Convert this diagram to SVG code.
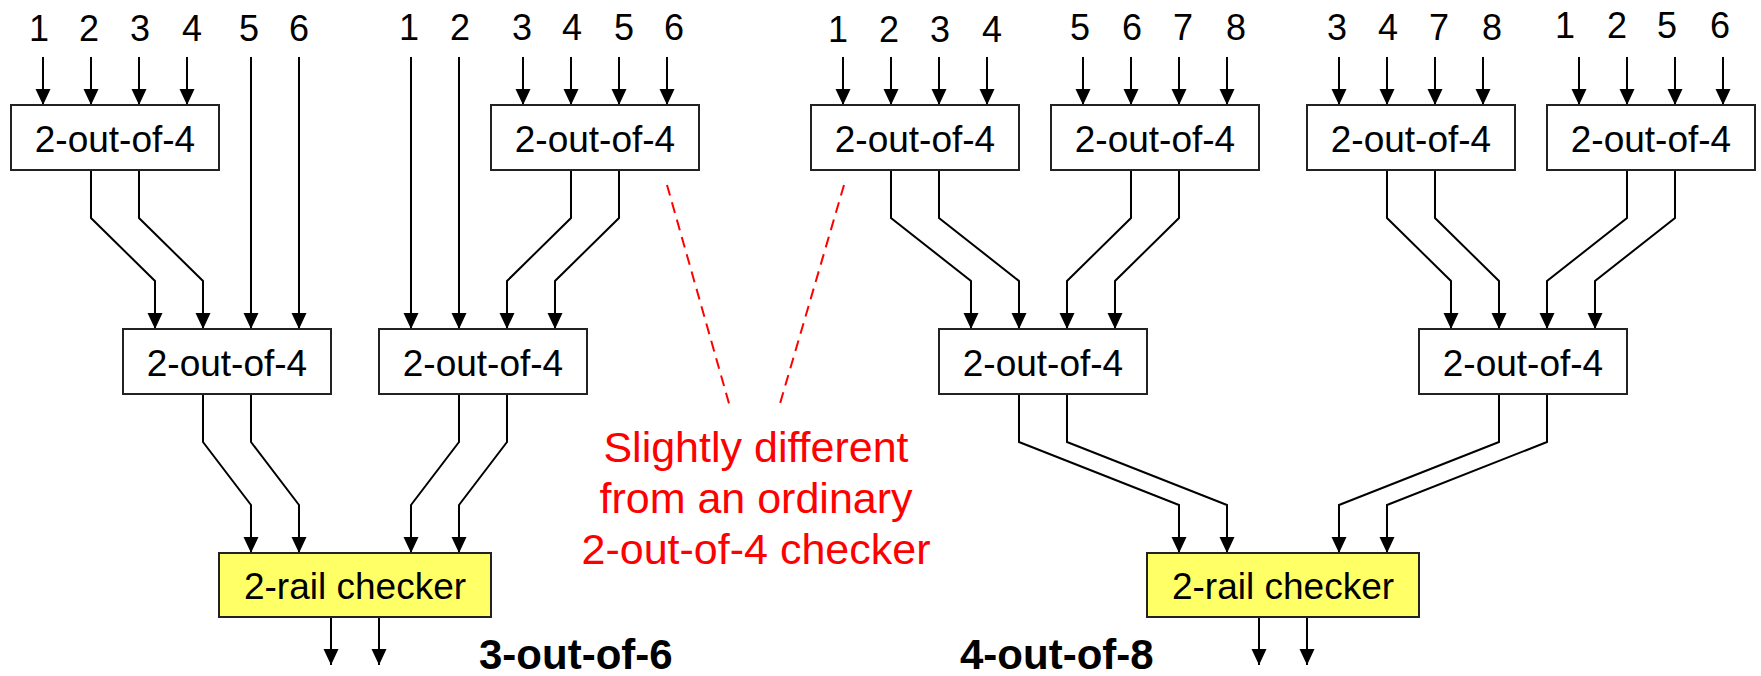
<svg xmlns="http://www.w3.org/2000/svg" width="1761" height="676" viewBox="0 0 1761 676">
  <style>
    .box { fill: #ffffff; stroke: #222; stroke-width: 2; }
    .chk { fill: #ffff66; stroke: #222; stroke-width: 2; }
    .lbl { font-family: "Liberation Sans", Arial, sans-serif; font-size: 37px; fill: #000; text-anchor: middle; }
    .num { font-family: "Liberation Sans", Arial, sans-serif; font-size: 36px; fill: #000; text-anchor: middle; }
    .title { font-family: "Liberation Sans", Arial, sans-serif; font-size: 42px; font-weight: bold; fill: #000; }
    .note { font-family: "Liberation Sans", Arial, sans-serif; font-size: 43px; fill: #ff0000; text-anchor: middle; }
    .wire { fill: none; stroke: #000; stroke-width: 2; marker-end: url(#arr); }
    .dash { fill: none; stroke: #ff0000; stroke-width: 2; stroke-dasharray: 11 7; }
  </style>
  <defs>
    <marker id="arr" markerUnits="userSpaceOnUse" markerWidth="16" markerHeight="16" viewBox="0 0 16 16" refX="16" refY="7.5" orient="auto">
      <path d="M0,0 L16,7.5 L0,15 z" fill="#000"/>
    </marker>
  </defs>

  <rect width="1761" height="676" fill="#ffffff"/>

  <!-- input index labels -->
  <g id="inputs">
    <text class="num" x="39" y="41">1</text>
    <text class="num" x="89" y="41">2</text>
    <text class="num" x="140" y="41">3</text>
    <text class="num" x="192" y="41">4</text>
    <text class="num" x="249" y="41">5</text>
    <text class="num" x="299" y="41">6</text>

    <text class="num" x="409" y="39.5">1</text>
    <text class="num" x="460" y="39.5">2</text>
    <text class="num" x="522" y="39.5">3</text>
    <text class="num" x="572" y="39.5">4</text>
    <text class="num" x="624" y="39.5">5</text>
    <text class="num" x="674" y="39.5">6</text>

    <text class="num" x="838" y="41.5">1</text>
    <text class="num" x="889" y="41.5">2</text>
    <text class="num" x="940" y="41.5">3</text>
    <text class="num" x="992" y="41.5">4</text>
    <text class="num" x="1080" y="39.5">5</text>
    <text class="num" x="1132" y="39.5">6</text>
    <text class="num" x="1183" y="39.5">7</text>
    <text class="num" x="1236" y="39.5">8</text>

    <text class="num" x="1337" y="39.5">3</text>
    <text class="num" x="1388" y="39.5">4</text>
    <text class="num" x="1439" y="39.5">7</text>
    <text class="num" x="1492" y="39.5">8</text>
    <text class="num" x="1565" y="37.5">1</text>
    <text class="num" x="1617" y="37.5">2</text>
    <text class="num" x="1667" y="37.5">5</text>
    <text class="num" x="1720" y="37.5">6</text>
  </g>

  <!-- connectors -->
  <g id="connectors">
    <!-- 3-out-of-6: primary inputs -->
    <path class="wire" d="M43,57 V105"/>
    <path class="wire" d="M91,57 V105"/>
    <path class="wire" d="M139,57 V105"/>
    <path class="wire" d="M187,57 V105"/>
    <path class="wire" d="M251,57 V329"/>
    <path class="wire" d="M299,57 V329"/>
    <path class="wire" d="M411,57 V329"/>
    <path class="wire" d="M459,57 V329"/>
    <path class="wire" d="M523,57 V105"/>
    <path class="wire" d="M571,57 V105"/>
    <path class="wire" d="M619,57 V105"/>
    <path class="wire" d="M667,57 V105"/>
    <!-- 3-out-of-6: first level to second level -->
    <path class="wire" d="M91,170 V218 L155,281 V329"/>
    <path class="wire" d="M139,170 V218 L203,281 V329"/>
    <path class="wire" d="M571,170 V218 L507,281 V329"/>
    <path class="wire" d="M619,170 V218 L555,281 V329"/>
    <!-- 3-out-of-6: second level to 2-rail checker -->
    <path class="wire" d="M203,394 V442 L251,505 V553"/>
    <path class="wire" d="M251,394 V442 L299,505 V553"/>
    <path class="wire" d="M459,394 V442 L411,505 V553"/>
    <path class="wire" d="M507,394 V442 L459,505 V553"/>
    <!-- 3-out-of-6: outputs -->
    <path class="wire" d="M331,617 V665"/>
    <path class="wire" d="M379,617 V665"/>

    <!-- 4-out-of-8: primary inputs -->
    <path class="wire" d="M843,57 V105"/>
    <path class="wire" d="M891,57 V105"/>
    <path class="wire" d="M939,57 V105"/>
    <path class="wire" d="M987,57 V105"/>
    <path class="wire" d="M1083,57 V105"/>
    <path class="wire" d="M1131,57 V105"/>
    <path class="wire" d="M1179,57 V105"/>
    <path class="wire" d="M1227,57 V105"/>
    <path class="wire" d="M1339,57 V105"/>
    <path class="wire" d="M1387,57 V105"/>
    <path class="wire" d="M1435,57 V105"/>
    <path class="wire" d="M1483,57 V105"/>
    <path class="wire" d="M1579,57 V105"/>
    <path class="wire" d="M1627,57 V105"/>
    <path class="wire" d="M1675,57 V105"/>
    <path class="wire" d="M1723,57 V105"/>
    <!-- 4-out-of-8: first level to second level -->
    <path class="wire" d="M891,170 V218 L971,281 V329"/>
    <path class="wire" d="M939,170 V218 L1019,281 V329"/>
    <path class="wire" d="M1131,170 V218 L1067,281 V329"/>
    <path class="wire" d="M1179,170 V218 L1115,281 V329"/>
    <path class="wire" d="M1387,170 V218 L1451,281 V329"/>
    <path class="wire" d="M1435,170 V218 L1499,281 V329"/>
    <path class="wire" d="M1627,170 V218 L1547,281 V329"/>
    <path class="wire" d="M1675,170 V218 L1595,281 V329"/>
    <!-- 4-out-of-8: second level to 2-rail checker -->
    <path class="wire" d="M1019,394 V442 L1179,505 V553"/>
    <path class="wire" d="M1067,394 V442 L1227,505 V553"/>
    <path class="wire" d="M1499,394 V442 L1339,505 V553"/>
    <path class="wire" d="M1547,394 V442 L1387,505 V553"/>
    <!-- 4-out-of-8: outputs -->
    <path class="wire" d="M1259,617 V665"/>
    <path class="wire" d="M1307,617 V665"/>

    <!-- callout leaders -->
    <path class="dash" d="M667,185 L730,407"/>
    <path class="dash" d="M844,185 L779,407"/>
  </g>

  <!-- 3-out-of-6 checker blocks -->
  <g id="c6-top-left">
    <rect class="box" x="11" y="105" width="208" height="65"/>
    <text class="lbl" x="115" y="151.5">2-out-of-4</text>
  </g>
  <g id="c6-top-right">
    <rect class="box" x="491" y="105" width="208" height="65"/>
    <text class="lbl" x="595" y="151.5">2-out-of-4</text>
  </g>
  <g id="c6-mid-left">
    <rect class="box" x="123" y="329" width="208" height="65"/>
    <text class="lbl" x="227" y="375.5">2-out-of-4</text>
  </g>
  <g id="c6-mid-right">
    <rect class="box" x="379" y="329" width="208" height="65"/>
    <text class="lbl" x="483" y="375.5">2-out-of-4</text>
  </g>
  <g id="c6-rail">
    <rect class="chk" x="219" y="553" width="272" height="64"/>
    <text class="lbl" x="355" y="599">2-rail checker</text>
  </g>
  <g id="c6-title">
    <text class="title" x="479" y="669">3-out-of-6</text>
  </g>

  <!-- 4-out-of-8 checker blocks -->
  <g id="c8-top-1">
    <rect class="box" x="811" y="105" width="208" height="65"/>
    <text class="lbl" x="915" y="151.5">2-out-of-4</text>
  </g>
  <g id="c8-top-2">
    <rect class="box" x="1051" y="105" width="208" height="65"/>
    <text class="lbl" x="1155" y="151.5">2-out-of-4</text>
  </g>
  <g id="c8-top-3">
    <rect class="box" x="1307" y="105" width="208" height="65"/>
    <text class="lbl" x="1411" y="151.5">2-out-of-4</text>
  </g>
  <g id="c8-top-4">
    <rect class="box" x="1547" y="105" width="208" height="65"/>
    <text class="lbl" x="1651" y="151.5">2-out-of-4</text>
  </g>
  <g id="c8-mid-left">
    <rect class="box" x="939" y="329" width="208" height="65"/>
    <text class="lbl" x="1043" y="375.5">2-out-of-4</text>
  </g>
  <g id="c8-mid-right">
    <rect class="box" x="1419" y="329" width="208" height="65"/>
    <text class="lbl" x="1523" y="375.5">2-out-of-4</text>
  </g>
  <g id="c8-rail">
    <rect class="chk" x="1147" y="553" width="272" height="64"/>
    <text class="lbl" x="1283" y="599">2-rail checker</text>
  </g>
  <g id="c8-title">
    <text class="title" x="960" y="669">4-out-of-8</text>
  </g>

  <!-- callout note -->
  <g id="note">
    <text class="note" x="756" y="462">Slightly different</text>
    <text class="note" x="756" y="513">from an ordinary</text>
    <text class="note" x="756" y="564">2-out-of-4 checker</text>
  </g>
</svg>
